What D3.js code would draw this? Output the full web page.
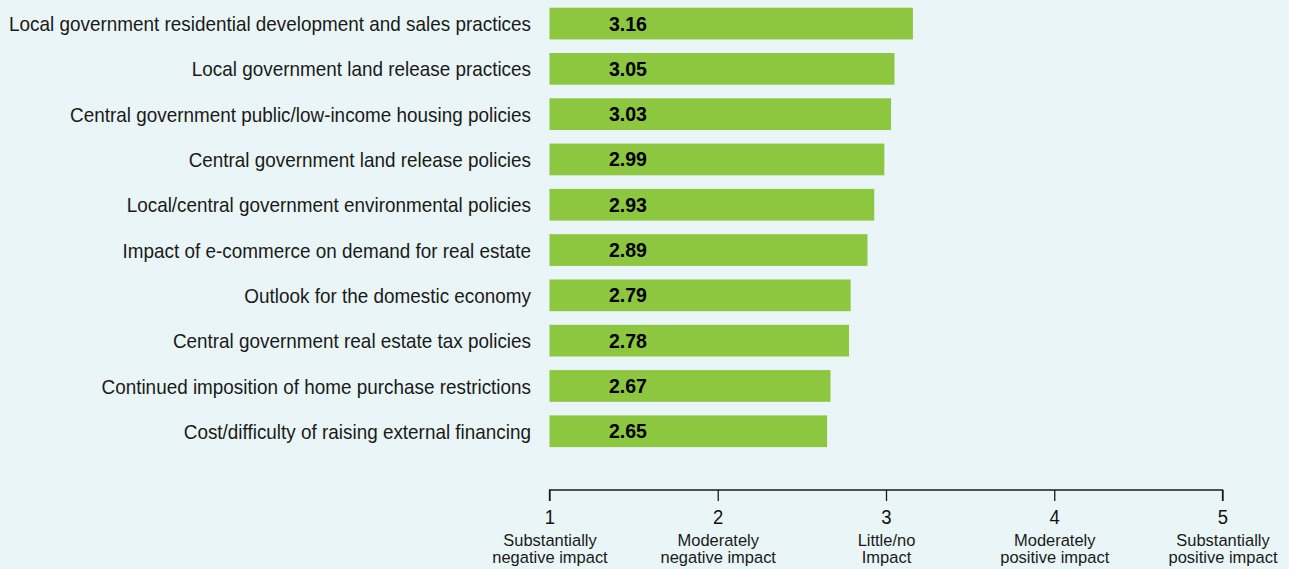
<!DOCTYPE html>
<html><head><meta charset="utf-8">
<script src="https://cdn.jsdelivr.net/npm/d3@7"></script>
<style>
html,body{margin:0;padding:0;background:#e9f5f6;}
svg{display:block;}
text{font-family:"Liberation Sans",Arial,sans-serif;fill:#1a1a1a;}
</style></head>
<body>
<svg id="chart" width="1289" height="569"></svg>
<script>
const categories = [
  "Local government residential development and sales practices",
  "Local government land release practices",
  "Central government public/low-income housing policies",
  "Central government land release policies",
  "Local/central government environmental policies",
  "Impact of e-commerce on demand for real estate",
  "Outlook for the domestic economy",
  "Central government real estate tax policies",
  "Continued imposition of home purchase restrictions",
  "Cost/difficulty of raising external financing"
];
const values = [3.16, 3.05, 3.03, 2.99, 2.93, 2.89, 2.79, 2.78, 2.67, 2.65];
const tickValues = [1, 2, 3, 4, 5];
const tickLabels = [
  ["Substantially", "negative impact"],
  ["Moderately", "negative impact"],
  ["Little/no", "Impact"],
  ["Moderately", "positive impact"],
  ["Substantially", "positive impact"]
];

const svg = d3.select("#chart");
const x = d3.scaleLinear().domain([1, 5]).range([549.5, 1222.5]);
const y = d3.scaleBand().domain(categories).range([0.9, 453.9]).paddingInner(0.3).paddingOuter(0.15);
const narrow = 0.9;

const g = svg.append("g");
g.selectAll("rect.bar").data(values).join("rect")
  .attr("class", "bar")
  .attr("x", x(1))
  .attr("y", (d, i) => y(categories[i]))
  .attr("width", d => x(d) - x(1))
  .attr("height", y.bandwidth())
  .attr("fill", "#8dc63f");

g.selectAll("text.val").data(values).join("text")
  .attr("class", "val")
  .attr("x", x(1) + 59.5)
  .attr("y", (d, i) => y(categories[i]) + y.bandwidth() / 2)
  .attr("dy", "0.36em")
  .attr("font-size", 19.5)
  .attr("font-weight", "bold")
  .style("fill", "#000")
  .text(d => d.toFixed(2));

g.selectAll("text.cat").data(categories).join("text")
  .attr("class", "cat")
  .attr("transform", d => `translate(531,${y(d) + y.bandwidth() / 2}) scale(${narrow},1)`)
  .attr("dy", "0.36em")
  .attr("text-anchor", "end")
  .attr("font-size", 21)
  .text(d => d);

const axis = d3.axisBottom(x).tickValues(tickValues).tickSize(11).tickSizeOuter(0).tickFormat(d3.format("d"));
const ax = svg.append("g").attr("transform", "translate(0,490)").call(axis);
ax.select(".domain").attr("stroke", "#1a1a1a").attr("stroke-width", 1.3).attr("d", `M${x(1)},11V0H${x(5)}V11`);
ax.selectAll(".tick line").attr("stroke", "#1a1a1a").attr("stroke-width", 1.3);
ax.selectAll(".tick text").attr("font-size", 20.5).attr("y", 0).attr("dy", "34.5px")
  .attr("transform", `scale(${narrow},1)`)
  .style("font-family", '"Liberation Sans",Arial,sans-serif').style("fill", "#111");
ax.selectAll(".tick").each(function(d, i) {
  const t = d3.select(this);
  tickLabels[i].forEach((line, j) => {
    t.append("text").attr("x", 0).attr("y", 56 + j * 17).attr("text-anchor", "middle")
      .attr("transform", `scale(0.97,1)`)
      .attr("font-size", 17).text(line);
  });
});
</script>
</body></html>
